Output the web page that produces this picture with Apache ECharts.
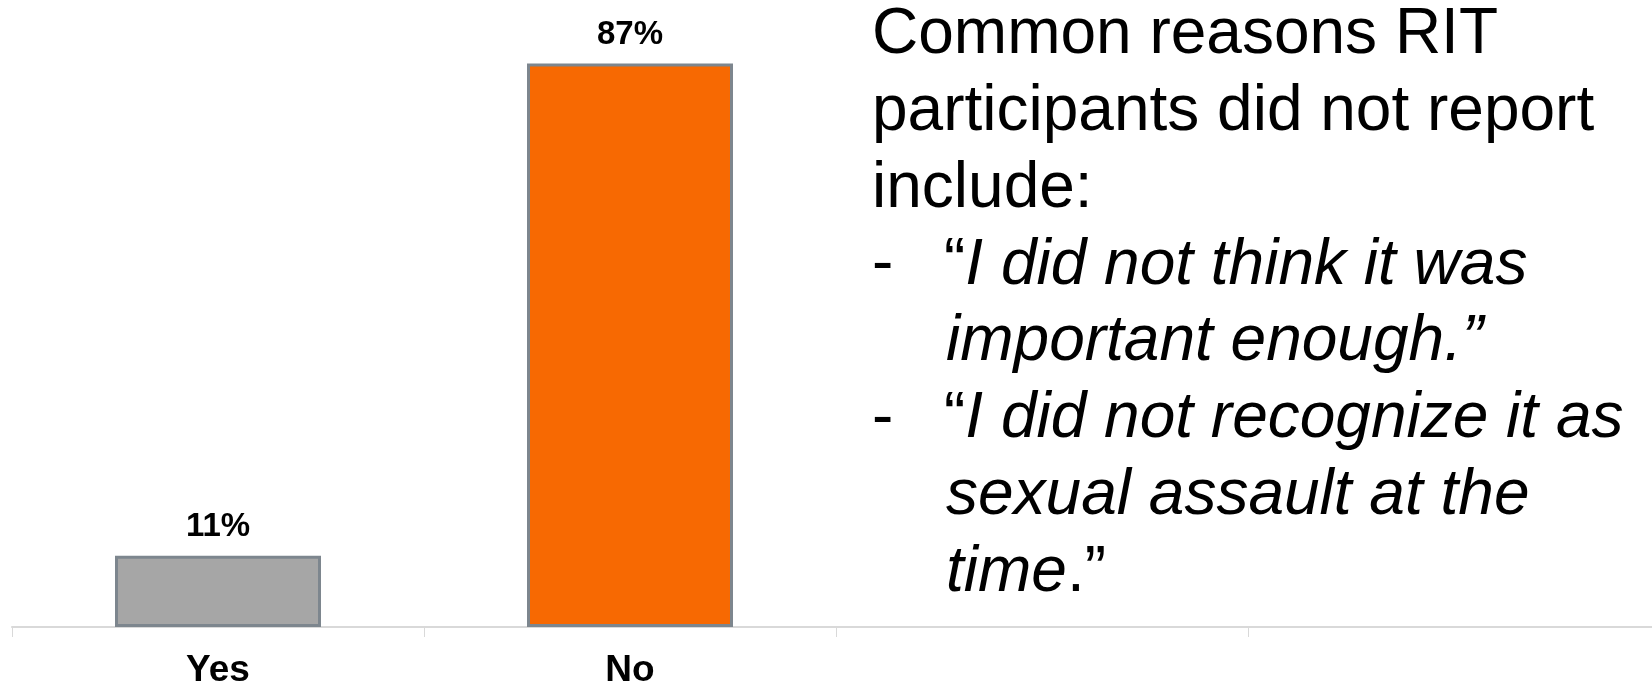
<!DOCTYPE html>
<html><head><meta charset="utf-8">
<script src="https://cdn.jsdelivr.net/npm/echarts@6/dist/echarts.min.js"></script>
<style>html,body{margin:0;padding:0;background:#fff}#c{width:1652px;height:687px}</style>
</head><body><div id="c"></div>
<script>
const categories = ['Yes', 'No', '', ''];
const values = [11, 87, null, null];
const barColors = ['#a6a6a6', '#f76902', '#a6a6a6', '#a6a6a6'];
const noteLines = [
  'Common reasons RIT',
  'participants did not report',
  'include:'
];

const FONT = '"Liberation Sans", Arial, Helvetica, sans-serif';
const chart = echarts.init(document.getElementById('c'), null, {renderer: 'canvas'});

const S = 64, LH = 76.8, B0 = 57.8;
function yOf(i){ return B0 + i * LH - 0.35 * S; }
const baseStyle = {fontFamily: FONT, fontSize: S, fill: '#000', verticalAlign: 'middle', align: 'left'};
const rich = {
  i: {fontFamily: FONT, fontSize: S, fontStyle: 'italic', fill: '#000'},
  r: {fontFamily: FONT, fontSize: S, fill: '#000'}
};
function line(x, i, text){
  return {type: 'text', x: x, y: yOf(i), style: Object.assign({}, baseStyle, {text: text, rich: rich})};
}
const graphics = [];
noteLines.forEach((t, i) => graphics.push(line(872, i, '{r|' + t + '}')));
graphics.push(line(872, 3, '{r|-}'));
graphics.push(line(944, 3, '{r|“}{i|I did not think it was}'));
graphics.push(line(946, 4, '{i|important enough.”}'));
graphics.push(line(872, 5, '{r|-}'));
graphics.push(line(944, 5, '{r|“}{i|I did not recognize it as}'));
graphics.push(line(946, 6, '{i|sexual assault at the}'));
graphics.push(line(946, 7, '{i|time}{r|.”}'));

chart.setOption({
  animation: false,
  grid: {left: 12, width: 1648, top: 44, bottom: 60, containLabel: false, outerBoundsMode: 'none'},
  xAxis: {
    type: 'category', data: categories,
    axisLine: {show: true, lineStyle: {color: '#d9d9d9', width: 2}},
    axisTick: {show: true, length: 10, lineStyle: {color: '#d9d9d9', width: 1}},
    axisLabel: {color: '#000', fontWeight: 'bold', fontSize: 37, fontFamily: FONT, margin: 25, interval: 0}
  },
  yAxis: {type: 'value', min: 0, max: 90, show: false, splitLine: {show: false}},
  series: [{
    type: 'bar', data: values.map((v, i) => ({value: v, itemStyle: {color: barColors[i]}})),
    barWidth: '50%',
    itemStyle: {borderColor: '#7d868e', borderWidth: 3},
    label: {show: true, position: 'top', distance: 12, formatter: p => p.value + '%', color: '#000', fontWeight: 'bold', fontSize: 33, fontFamily: FONT}
  }],
  graphic: graphics
});
</script></body></html>
